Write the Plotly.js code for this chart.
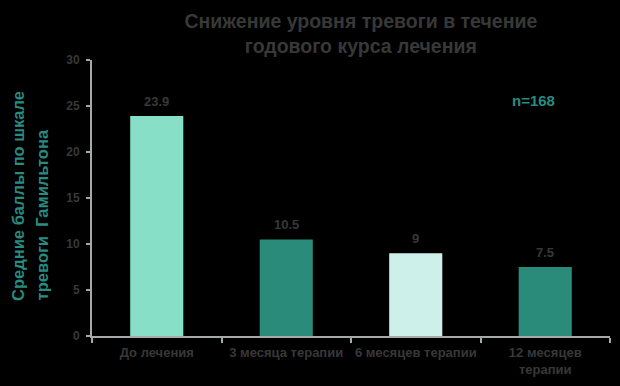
<!DOCTYPE html>
<html>
<head>
<meta charset="utf-8">
<script src="https://cdn.plot.ly/plotly-3.0.1.min.js"></script>
<style>html,body{margin:0;padding:0;background:#000;}#chart{width:620px;height:386px;}</style>
</head>
<body>
<div id="chart"></div>
<script>
const categories = ["До лечения", "3 месяца терапии", "6 месяцев терапии", "12 месяцев<br>терапии"];
const values = [23.9, 10.5, 9, 7.5];
const valueLabels = ["23.9", "10.5", "9", "7.5"];
const barColors = ["#86dfc6", "#2a8b7a", "#cdf0ea", "#2a8b7a"];
const yTicks = [0, 5, 10, 15, 20, 25, 30];

const fontFam = "Liberation Sans, Arial, sans-serif";
const gray = "#383838";
const teal = "#2a8b80";

const trace = {
  type: "bar",
  x: categories,
  y: values,
  marker: {color: barColors, line: {width: 0}},
  width: 0.41,
  hoverinfo: "none"
};

const annotations = categories.map((c, i) => ({
  x: c, y: values[i], xref: "x", yref: "y",
  text: valueLabels[i], showarrow: false,
  yanchor: "bottom", yshift: 5,
  font: {family: fontFam, size: 13, color: gray, weight: "bold"}
}));

annotations.push({
  xref: "paper", yref: "paper", x: 0.853, y: 0.855,
  text: "n=168", showarrow: false, xanchor: "center", yanchor: "middle",
  font: {family: fontFam, size: 15, color: teal, weight: "bold"}
});
annotations.push({
  xref: "paper", yref: "paper", x: 0, y: 0.12, xshift: -74,
  text: "Средние баллы по шкале", showarrow: false, textangle: -90,
  xanchor: "center", yanchor: "bottom",
  font: {family: fontFam, size: 16.5, color: teal, weight: "bold"}
});
annotations.push({
  xref: "paper", yref: "paper", x: 0, y: 0.12, xshift: -50,
  text: "тревоги  Гамильтона", showarrow: false, textangle: -90,
  xanchor: "center", yanchor: "bottom",
  font: {family: fontFam, size: 16.5, color: teal, weight: "bold"}
});

const layout = {
  width: 620, height: 386,
  paper_bgcolor: "#000", plot_bgcolor: "#000",
  margin: {l: 92, r: 10, t: 60, b: 50},
  showlegend: false,
  title: {
    text: "Снижение уровня тревоги в течение<br>годового курса лечения",
    x: 0.582, xanchor: "center", y: 0.928, yanchor: "middle", yref: "container",
    font: {family: fontFam, size: 19.5, color: gray, weight: "bold"}
  },
  xaxis: {
    type: "category",
    showline: true, linecolor: "#a3aaa8", linewidth: 2,
    ticks: "outside", tickson: "boundaries", ticklen: 5, tickcolor: "#a3aaa8", tickwidth: 2,
    showgrid: false, zeroline: false,
    ticklabelstandoff: 3,
    tickfont: {family: fontFam, size: 13, color: gray, weight: "bold"},
    tickangle: 0
  },
  yaxis: {
    range: [0, 30],
    tickvals: yTicks,
    showline: true, linecolor: "#a3aaa8", linewidth: 2,
    ticks: "outside", ticklen: 4, tickcolor: "#a3aaa8", tickwidth: 2,
    showgrid: false, zeroline: false,
    ticklabelstandoff: 4,
    tickfont: {family: fontFam, size: 12, color: gray, weight: "bold"}
  },
  annotations: annotations
};

Plotly.newPlot("chart", [trace], layout, {displayModeBar: false, staticPlot: true});
</script>
</body>
</html>
